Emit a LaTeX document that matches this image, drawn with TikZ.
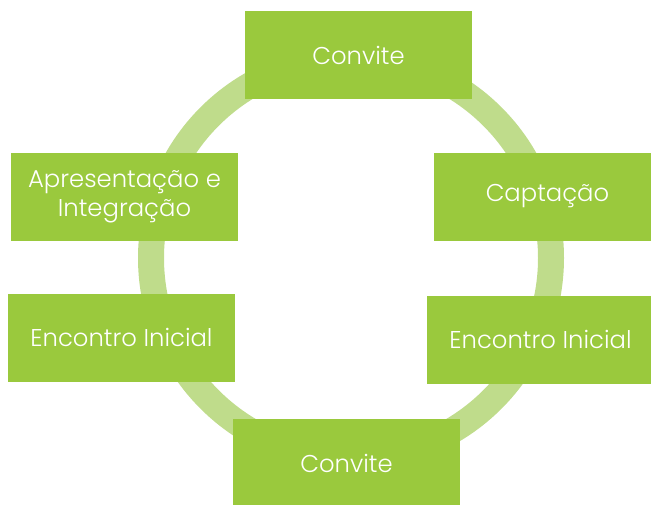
\documentclass[tikz,border=0pt]{standalone}
\usepackage{fontspec}
\setmainfont{Poppins Light}
\usepackage{tikz}
\usetikzlibrary{positioning}
\definecolor{boxgreen}{HTML}{9AC93D}
\definecolor{ringgreen}{HTML}{BFDC8B}

\begin{document}
\begin{tikzpicture}[x=1pt, y=-1pt,
  etapa/.style={fill=boxgreen, text=white, minimum width=227pt, minimum height=88pt,
    inner sep=0pt, align=center, font=\fontsize{24.3}{29}\selectfont}]
\useasboundingbox (0,0) rectangle (651,504);
\draw[ringgreen, line width=26pt] (351,258) circle (200pt);
\node[etapa] (conviteA) at (358.5,55) {Convite};
\node[etapa] (captacao) at (547.5,196.5) {Captação};
\node[etapa] (encontroB) at (540.5,339.5) {Encontro Inicial};
\node[etapa] (conviteB) at (346.5,463) {Convite};
\node[etapa] (encontroA) at (121.5,337.5) {Encontro Inicial};
\node[etapa] (apresentacao) at (124.5,196.5) {Apresentação e\\Integração};
\end{tikzpicture}
\end{document}
